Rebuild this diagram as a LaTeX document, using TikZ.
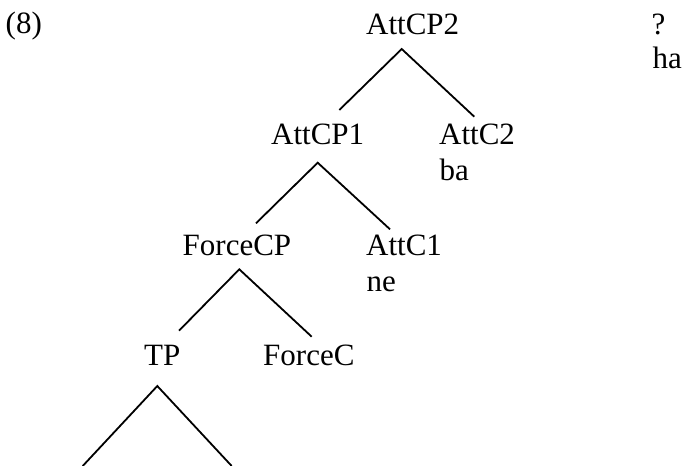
\documentclass[tikz,border=0pt]{standalone}
\usepackage{fontspec}
\setmainfont{Liberation Serif}
\begin{document}
\begin{tikzpicture}[x=1pt,y=-1pt,
  lbl/.style={anchor=base west,inner sep=0pt,font=\fontsize{31}{36}\selectfont},
  edge/.style={line width=1.8pt,black}]
\useasboundingbox (0,0) rectangle (686,466);
% labels
\node[lbl] (ex) at (5.5,33.5) {(8)};
\node[lbl] (attcp2) at (366,34) {AttCP2};
\node[lbl] (q) at (651.5,34) {?};
\node[lbl] (ha) at (652.5,68.5) {ha};
\node[lbl] (attcp1) at (271,144) {AttCP1};
\node[lbl] (attc2) at (439,144) {AttC2};
\node[lbl] (ba) at (439.5,180) {ba};
\node[lbl] (forcecp) at (182.5,255) {ForceCP};
\node[lbl] (attc1) at (366,255) {AttC1};
\node[lbl] (ne) at (366.5,291.5) {ne};
\node[lbl] (tp) at (144,365) {TP};
\node[lbl] (forcec) at (263,365) {ForceC};
% branch points
\coordinate (a2top) at (401.7,49);
\coordinate (a2l) at (339.3,110);
\coordinate (a2r) at (474.3,116.7);
\coordinate (a1top) at (317.7,162.7);
\coordinate (a1l) at (256,223.3);
\coordinate (a1r) at (390,229.3);
\coordinate (fctop) at (239.3,269.3);
\coordinate (fcl) at (179,330.7);
\coordinate (fcr) at (311.7,336.7);
\coordinate (tptop) at (157.3,386);
\coordinate (tpl) at (82.7,466);
\coordinate (tpr) at (231.7,466);
% branches
\draw[edge] (a2l) -- (a2top) -- (a2r);
\draw[edge] (a1l) -- (a1top) -- (a1r);
\draw[edge] (fcl) -- (fctop) -- (fcr);
\draw[edge] (tpl) -- (tptop) -- (tpr);
\end{tikzpicture}
\end{document}
